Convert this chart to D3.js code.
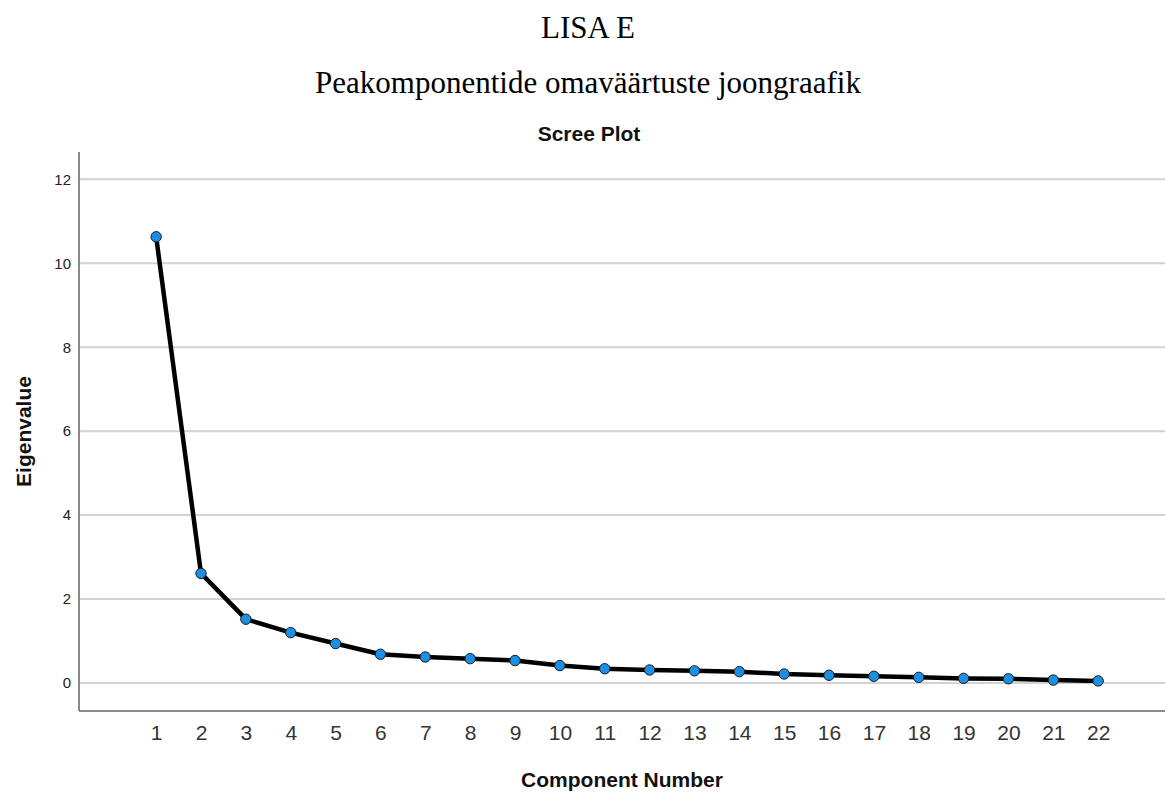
<!DOCTYPE html>
<html>
<head>
<meta charset="utf-8">
<script src="https://cdn.jsdelivr.net/npm/d3@7"></script>
<style>
  body { margin: 0; background: #fff; }
  svg { display: block; }
</style>
</head>
<body>
<div id="chart"></div>
<script>
// Andmed (loetud pildilt)
const components = d3.range(1, 23);
const eigenvalues = [10.63, 2.61, 1.52, 1.20, 0.94, 0.685, 0.62, 0.58, 0.535, 0.415,
                     0.34, 0.31, 0.29, 0.27, 0.215, 0.185, 0.16, 0.135, 0.11, 0.10, 0.07, 0.05];
const yTicks = [0, 2, 4, 6, 8, 10, 12];

const width = 1167, height = 792;
const margin = { top: 152, right: 2, bottom: 81, left: 79 };
const innerW = width - margin.left - margin.right;
const innerH = height - margin.top - margin.bottom;

const svg = d3.select("#chart").append("svg")
    .attr("width", width)
    .attr("height", height);

// Pealkirjad
svg.append("text")
    .attr("x", 588).attr("y", 38)
    .attr("text-anchor", "middle")
    .style("font-family", "'Liberation Serif', 'Times New Roman', serif")
    .style("font-size", "31px")
    .text("LISA E");

svg.append("text")
    .attr("x", 588).attr("y", 93)
    .attr("text-anchor", "middle")
    .style("font-family", "'Liberation Serif', 'Times New Roman', serif")
    .style("font-size", "31px")
    .text("Peakomponentide omaväärtuste joongraafik");

svg.append("text")
    .attr("x", 589).attr("y", 141)
    .attr("text-anchor", "middle")
    .style("font-family", "'Liberation Sans', Arial, sans-serif")
    .style("font-weight", "bold")
    .style("font-size", "21px")
    .attr("fill", "#111")
    .text("Scree Plot");

const g = svg.append("g")
    .attr("transform", "translate(" + margin.left + "," + margin.top + ")");

// Skaalad
const x = d3.scaleLinear().domain([-0.72, 23.49]).range([0, innerW]);
const y = d3.scaleLinear().domain([-0.667, 12.65]).range([innerH, 0]);

// Ruudustik
g.append("g").attr("class", "grid")
    .selectAll("line")
    .data(yTicks)
    .enter().append("line")
    .attr("x1", 0).attr("x2", innerW)
    .attr("y1", d => y(d)).attr("y2", d => y(d))
    .attr("stroke", "#d2d2d2")
    .attr("stroke-width", 2);

// Y telg
const axisY = d3.axisLeft(y).tickValues(yTicks).tickSize(0).tickPadding(8);
const ejeY = g.append("g").call(axisY);
ejeY.select(".domain").remove();
ejeY.selectAll("text")
    .style("font-family", "'Liberation Sans', Arial, sans-serif")
    .style("font-size", "15px")
    .attr("fill", "#222");

// X telg
const axisX = d3.axisBottom(x).tickValues(components).tickSize(0).tickPadding(14);
const ejeX = g.append("g")
    .attr("transform", "translate(0," + innerH + ")")
    .call(axisX);
ejeX.select(".domain").remove();
ejeX.selectAll("text")
    .style("font-family", "'Liberation Sans', Arial, sans-serif")
    .style("font-size", "21px")
    .attr("fill", "#333");

// Telgede jooned
g.append("line")
    .attr("x1", 0).attr("x2", 0).attr("y1", 0).attr("y2", innerH)
    .attr("stroke", "#8a8a8a").attr("stroke-width", 2);
g.append("line")
    .attr("x1", 0).attr("x2", innerW).attr("y1", innerH).attr("y2", innerH)
    .attr("stroke", "#8a8a8a").attr("stroke-width", 2);

// Telgede pealkirjad
svg.append("text")
    .attr("x", margin.left + innerW / 2).attr("y", 787)
    .attr("text-anchor", "middle")
    .style("font-family", "'Liberation Sans', Arial, sans-serif")
    .style("font-weight", "bold")
    .style("font-size", "21px")
    .attr("fill", "#111")
    .text("Component Number");

svg.append("text")
    .attr("transform", "translate(31," + (margin.top + innerH / 2) + ") rotate(-90)")
    .attr("text-anchor", "middle")
    .style("font-family", "'Liberation Sans', Arial, sans-serif")
    .style("font-weight", "bold")
    .style("font-size", "21px")
    .attr("fill", "#111")
    .text("Eigenvalue");

// Joon
const data = components.map((c, i) => ({ c: c, v: eigenvalues[i] }));
const line = d3.line().x(d => x(d.c)).y(d => y(d.v));

g.append("path")
    .datum(data)
    .attr("d", line)
    .attr("fill", "none")
    .attr("stroke", "#000")
    .attr("stroke-width", 4.5)
    .attr("stroke-linejoin", "round");

g.selectAll("circle")
    .data(data)
    .enter().append("circle")
    .attr("cx", d => x(d.c))
    .attr("cy", d => y(d.v))
    .attr("r", 5.2)
    .attr("fill", "#1a8fe3")
    .attr("stroke", "#1a1a1a")
    .attr("stroke-width", 1);
</script>
</body>
</html>
